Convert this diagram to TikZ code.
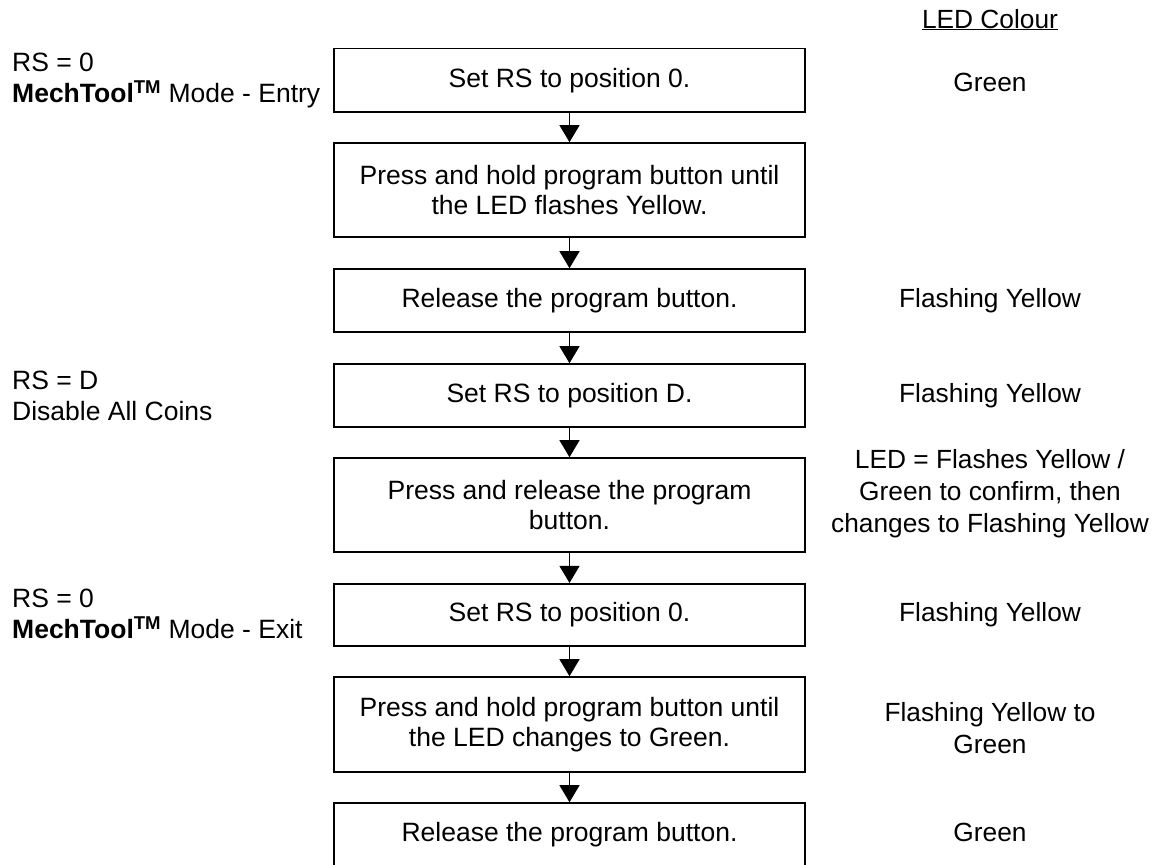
\documentclass[tikz,border=0pt]{standalone}
\usepackage{fontspec}
\setmainfont{Liberation Sans}
\usetikzlibrary{arrows.meta}
\begin{document}
\begin{tikzpicture}[x=1pt,y=-1pt,
  stepbox/.style={draw,line width=1.6pt,minimum width=471pt,inner sep=0pt,align=center,font=\fontsize{26.5}{30}\selectfont},
  side/.style={inner sep=0pt,align=center,font=\fontsize{26.3}{32}\selectfont},
  lefttext/.style={inner sep=0pt,align=left,anchor=west,font=\fontsize{26.5}{31}\selectfont},
  flow/.style={line width=1.1pt,-{Triangle[width=20pt,length=17pt]}}]
\useasboundingbox (0,0) rectangle (1160,865);
% flow boxes
\node[stepbox,minimum height=63.5pt] (b1) at (569.5,80.25) {Set RS to position 0.};
\node[stepbox,minimum height=94pt] (b2) at (569.5,190) {Press and hold program button until\\the LED flashes Yellow.};
\node[stepbox,minimum height=63pt] (b3) at (569.5,300.5) {Release the program button.};
\node[stepbox,minimum height=63pt] (b4) at (569.5,395.5) {Set RS to position D.};
\node[stepbox,minimum height=94pt] (b5) at (569.5,505) {Press and release the program\\button.};
\node[stepbox,minimum height=62pt] (b6) at (569.5,614.75) {Set RS to position 0.};
\node[stepbox,minimum height=95pt] (b7) at (569.5,724.5) {Press and hold program button until\\the LED changes to Green.};
\node[stepbox,minimum height=63pt] (b8) at (569.5,834.5) {Release the program button.};
% connectors
\draw[flow] (b1.south) -- (b2.north);
\draw[flow] (b2.south) -- (b3.north);
\draw[flow] (b3.south) -- (b4.north);
\draw[flow] (b4.south) -- (b5.north);
\draw[flow] (b5.south) -- (b6.north);
\draw[flow] (b6.south) -- (b7.north);
\draw[flow] (b7.south) -- (b8.north);
% left labels
\node[lefttext] (l1) at (12,80.5) {RS = 0\\\textbf{MechTool\textsuperscript{TM}} Mode - Entry};
\node[lefttext] (l4) at (12,396) {RS = D\\Disable All Coins};
\node[lefttext] (l6) at (12,614) {RS = 0\\\textbf{MechTool\textsuperscript{TM}} Mode - Exit};
% right column
\node[side,anchor=base] (hdr) at (990,28) {\underline{LED Colour}};
\node[side] (r1) at (990,82) {Green};
\node[side] (r3) at (990,301) {Flashing Yellow};
\node[side] (r4) at (990,396) {Flashing Yellow};
\node[side] (r5) at (990,494) {LED = Flashes Yellow /\\Green to confirm, then\\changes to Flashing Yellow};
\node[side] (r6) at (990,615) {Flashing Yellow};
\node[side] (r7) at (990,728) {Flashing Yellow to\\Green};
\node[side] (r8) at (990,832) {Green};
\end{tikzpicture}
\end{document}
